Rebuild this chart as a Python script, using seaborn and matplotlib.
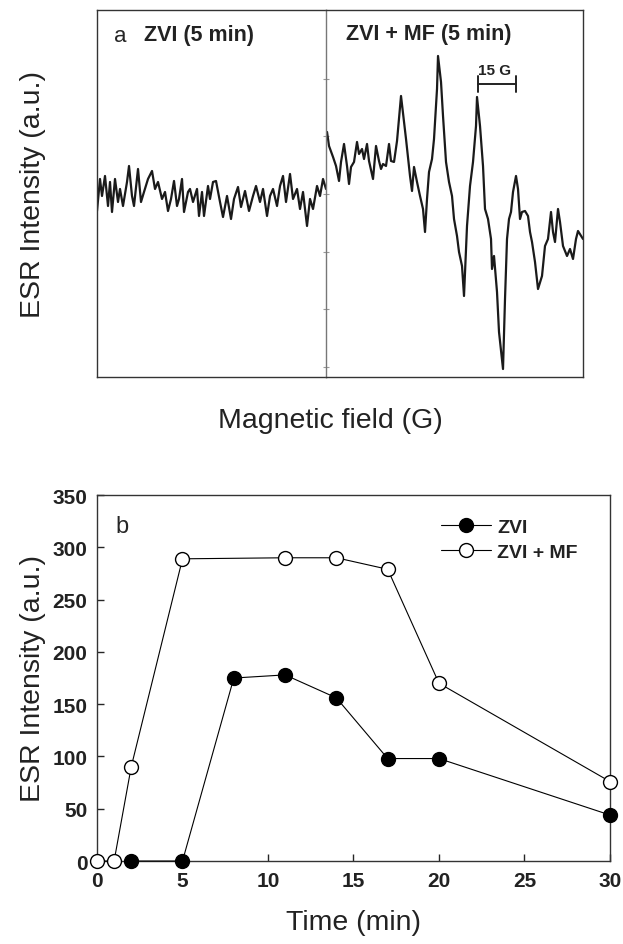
import matplotlib
matplotlib.use("Agg")
import matplotlib.pyplot as plt
import seaborn as sns

sns.set_style("ticks")
plt.rcParams["font.family"] = ["Liberation Sans", "DejaVu Sans"]

# Panel a: ESR spectra (field in arbitrary units, intensity a.u.)
field_zvi = [0, 3, 5, 8, 11, 13, 15, 18, 21, 23, 26, 30, 32, 35, 37, 41, 44, 47, 51, 55,
             58, 61, 65, 68, 71, 74, 77, 80, 82, 85, 87, 91, 93, 96, 100, 102, 105, 107,
             111, 113, 116, 119, 123, 126, 130, 134, 137, 141, 144, 148, 152, 156, 159,
             163, 166, 170, 173, 176, 180, 183, 186, 189, 193, 196, 200, 203, 206, 210,
             213, 216, 220, 223, 226, 229]
esr_zvi = [188, 220, 203, 223, 193, 217, 187, 220, 197, 210, 193, 217, 233, 203, 193, 230,
           197, 207, 220, 228, 210, 217, 200, 207, 188, 200, 218, 193, 200, 220, 187, 207,
           210, 197, 210, 183, 207, 183, 213, 200, 217, 218, 197, 182, 203, 180, 200, 212,
           192, 208, 188, 203, 213, 197, 210, 183, 203, 210, 193, 213, 223, 197, 225, 200,
           210, 190, 207, 173, 200, 190, 213, 203, 220, 210]

field_mf = [230, 232, 236, 239, 242, 244, 247, 250, 252, 254, 257, 260, 262, 265, 267, 270,
            272, 276, 279, 282, 284, 286, 289, 292, 294, 297, 300, 304, 309, 313, 315, 317,
            320, 323, 326, 328, 330, 332, 335, 337, 340, 341, 344, 346, 349, 352, 355, 357,
            360, 362, 365, 367, 370, 373, 376, 379, 380, 383, 386, 388, 391, 394, 395, 397,
            400, 402, 406, 408, 410, 412, 414, 416, 419, 421, 423, 425, 428, 431, 433, 435,
            438, 441, 445, 448, 451, 454, 456, 458, 461, 463, 466, 470, 473, 476, 479, 481,
            486]
esr_mf = [267, 253, 242, 233, 218, 237, 255, 233, 215, 232, 237, 257, 245, 250, 240, 255,
          238, 220, 253, 238, 230, 235, 233, 255, 238, 237, 258, 303, 260, 223, 208, 232,
          217, 203, 190, 167, 200, 227, 240, 260, 310, 343, 317, 283, 237, 217, 203, 180,
          163, 147, 133, 103, 173, 213, 237, 273, 302, 273, 233, 190, 180, 160, 130, 143,
          107, 67, 30, 100, 160, 180, 187, 207, 223, 210, 180, 187, 188, 183, 167, 157,
          137, 110, 123, 153, 160, 187, 167, 157, 190, 177, 153, 143, 150, 140, 160, 168,
          160]

divider_ticks = [32, 90, 147, 205, 263, 320]

# Panel b: ESR intensity vs time
time_zvi = [2, 5, 8, 11, 14, 17, 20, 30]
int_zvi = [0, 0, 175, 178, 156, 98, 98, 44]
time_mf = [0, 1, 2, 5, 11, 14, 17, 20, 30]
int_mf = [0, 0, 90, 289, 290, 290, 279, 170, 76]

fig = plt.figure(figsize=(6.23, 9.45), dpi=100)

# ---- panel a ----
axL = fig.add_axes([0.1557, 0.600, 0.3676, 0.3884])
axR = fig.add_axes([0.5233, 0.600, 0.4125, 0.3884])
trace = "#1a1a1a"
sns.lineplot(x=field_zvi, y=esr_zvi, ax=axL, color=trace, lw=1.6, estimator=None)
sns.lineplot(x=field_mf, y=esr_mf, ax=axR, color=trace, lw=1.6, estimator=None)

for ax, lim in [(axL, (0, 229)), (axR, (229, 486))]:
    ax.set_xlim(*lim)
    ax.set_ylim(22, 389)
    ax.set_xticks([])
    for s in ax.spines.values():
        s.set_color("#333333")
        s.set_linewidth(1.0)

axL.set_yticks([])
axL.spines["right"].set_visible(False)
axR.spines["left"].set_color("#777777")
axR.set_yticks(divider_ticks)
axR.tick_params(axis="y", direction="inout", length=4, color="#999999", labelleft=False)

axL.text(0.075, 0.93, "a", transform=axL.transAxes, fontsize=16, ha="left", va="center")
axL.text(0.445, 0.932, "ZVI (5 min)", transform=axL.transAxes, fontsize=15.5,
         fontweight="bold", ha="center", va="center", color="#222222")
axR.text(0.40, 0.935, "ZVI + MF (5 min)", transform=axR.transAxes, fontsize=15.5,
         fontweight="bold", ha="center", va="center", color="#222222")

# 15 G scale bar
axR.plot([381, 419], [315, 315], color="#222222", lw=1.4)
axR.plot([381, 381], [307, 323], color="#222222", lw=1.4)
axR.plot([419, 419], [307, 323], color="#222222", lw=1.4)
axR.text(398, 329, "15 G", fontsize=11, fontweight="bold", ha="center", va="center",
         color="#222222")

fig.text(0.053, 0.794, "ESR Intensity (a.u.)", rotation=90, fontsize=20.5,
         ha="center", va="center", color="#222222")
fig.text(0.53, 0.555, "Magnetic field (G)", fontsize=20.5, ha="center", va="center",
         color="#222222")

# ---- panel b ----
axB = fig.add_axes([0.1557, 0.0878, 0.8234, 0.3873])
sns.lineplot(x=time_zvi, y=int_zvi, ax=axB, color="black", lw=0.8, marker="o",
             markersize=10, markerfacecolor="black", markeredgecolor="black",
             markeredgewidth=1.0, label="ZVI", clip_on=False, zorder=3)
sns.lineplot(x=time_mf, y=int_mf, ax=axB, color="black", lw=0.8, marker="o",
             markersize=10, markerfacecolor="white", markeredgecolor="black",
             markeredgewidth=1.0, label="ZVI + MF", clip_on=False, zorder=4)

axB.set_xlim(0, 30)
axB.set_ylim(0, 350)
axB.set_xticks(range(0, 31, 5))
axB.set_yticks(range(0, 351, 50))
axB.tick_params(direction="in", length=5, width=1, labelsize=15, pad=7,
                top=False, right=False, labelcolor="#222222")
for lab in axB.get_xticklabels() + axB.get_yticklabels():
    lab.set_fontweight("bold")
for s in axB.spines.values():
    s.set_color("#333333")
    s.set_linewidth(1.0)

axB.set_xlabel("Time (min)", fontsize=20.5, color="#222222", labelpad=14)
axB.set_ylabel("")
fig.text(0.053, 0.282, "ESR Intensity (a.u.)", rotation=90, fontsize=20.5,
         ha="center", va="center", color="#222222")
axB.text(0.035, 0.915, "b", transform=axB.transAxes, fontsize=17, ha="left", va="center")

leg = axB.legend(loc="upper left", bbox_to_anchor=(0.655, 0.958), frameon=False,
                 handlelength=2.6, handletextpad=0.3, borderaxespad=0,
                 labelspacing=0.38, prop={"weight": "bold", "size": 14})
for t in leg.get_texts():
    t.set_color("#222222")

fig.savefig("out.png", dpi=100)
